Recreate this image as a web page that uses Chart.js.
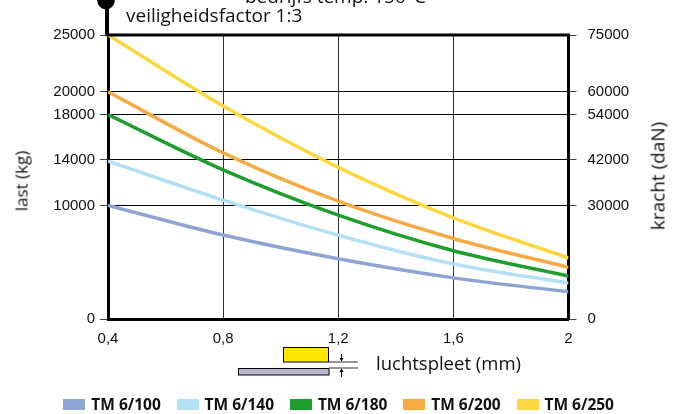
<!DOCTYPE html>
<html><head><meta charset="utf-8">
<script src="https://cdn.jsdelivr.net/npm/chart.js@4"></script>
<style>
html,body{margin:0;padding:0;background:#fff;}
#wrap{position:relative;width:678px;height:414px;overflow:hidden;font-family:"Open Sans",sans-serif;color:#111;}
canvas{position:absolute;left:0;top:0;}
.t{position:absolute;white-space:nowrap;line-height:1;}
.rot{position:absolute;white-space:nowrap;line-height:1;transform:translate(-50%,-50%) rotate(-90deg);}
.lg{position:absolute;top:396px;height:16px;display:flex;align-items:center;white-space:nowrap;font-weight:700;font-size:15.5px;}
.lg span.b{display:inline-block;width:22px;height:11px;margin-right:6px;}
</style></head><body>
<div id="wrap">
<canvas id="c" width="678" height="414"></canvas>
<div class="t" style="left:245px;top:-13px;font-size:19px">bedrijfs temp. 150°C</div>
<div class="t" style="left:126px;top:6px;font-size:19px">veiligheidsfactor 1:3</div>
<div class="t" style="left:376px;top:353.5px;font-size:18.5px">luchtspleet (mm)</div>
<div class="rot" style="left:21px;top:181px;font-size:17px">last (kg)</div>
<div class="rot" style="left:658px;top:176px;font-size:19px">kracht (daN)</div>
<div id="legend"></div>
</div>
<script>
// ---- data ----
const gapMm    = [0.4, 0.8, 1.2, 1.6, 2.0];
const xTicks   = [0.4, 0.8, 1.2, 1.6, 2];
const yTicksKg  = [0, 10000, 14000, 18000, 20000, 25000];
const yTicksDaN = [0, 30000, 42000, 54000, 60000, 75000];
const seriesNames = ['TM 6/100', 'TM 6/140', 'TM 6/180', 'TM 6/200', 'TM 6/250'];
const tm100 = [10000, 7390, 5300, 3620, 2390];
const tm140 = [13900, 10460, 7370, 4840, 3160];
const tm180 = [18000, 13130, 9140, 6010, 3780];
const tm200 = [20000, 14630, 10370, 7090, 4540];
const tm250 = [25000, 18750, 13350, 8900, 5370];
const seriesValues = [tm100, tm140, tm180, tm200, tm250];
const seriesColors = ['#8EA4D2', '#B3E0F5', '#1F9E2D', '#F5AA44', '#FDD73E'];

// ---- legend (HTML) ----
const lg = document.getElementById('legend');
seriesNames.forEach((n, i) => {
  const d = document.createElement('div');
  d.className = 'lg';
  d.style.left = (63.3 + i * 113.3) + 'px';
  d.innerHTML = '<span class="b" style="background:' + seriesColors[i] + '"></span>' + n;
  lg.appendChild(d);
});

const tickFont = {family: '"Liberation Sans", Arial, sans-serif', size: 15};

const decor = {
  id: 'decor',
  afterDraw(chart) {
    const ctx = chart.ctx, a = chart.chartArea;
    ctx.save();
    // top frame line
    ctx.strokeStyle = '#000';
    ctx.lineWidth = 3;
    ctx.beginPath(); ctx.moveTo(a.left - 1.5, a.top); ctx.lineTo(a.right + 1.5, a.top); ctx.stroke();
    // pole with ball above left axis
    ctx.lineWidth = 4;
    ctx.beginPath(); ctx.moveTo(a.left - 1, a.top); ctx.lineTo(a.left - 1, 2); ctx.stroke();
    ctx.fillStyle = '#000';
    ctx.beginPath(); ctx.arc(a.left - 2, 0.5, 8.8, 0, Math.PI * 2); ctx.fill();
    // air-gap sketch
    ctx.lineWidth = 1;
    ctx.fillStyle = '#FFE800';
    ctx.fillRect(283, 347, 46, 15); ctx.strokeRect(283.5, 347.5, 45, 14.5);
    ctx.fillStyle = '#B5B8CE';
    ctx.fillRect(238, 368, 91, 7); ctx.strokeRect(238.5, 368.5, 90.5, 6.5);
    ctx.strokeStyle = '#777'; ctx.lineWidth = 1.5;
    ctx.beginPath(); ctx.moveTo(329, 362); ctx.lineTo(358, 362); ctx.moveTo(329, 368); ctx.lineTo(358, 368); ctx.stroke();
    ctx.strokeStyle = '#000'; ctx.fillStyle = '#000'; ctx.lineWidth = 1;
    ctx.beginPath(); ctx.moveTo(341.5, 354); ctx.lineTo(341.5, 361); ctx.moveTo(341.5, 369); ctx.lineTo(341.5, 377); ctx.stroke();
    ctx.beginPath(); ctx.moveTo(339.5, 358); ctx.lineTo(343.5, 358); ctx.lineTo(341.5, 361.5); ctx.closePath(); ctx.fill();
    ctx.beginPath(); ctx.moveTo(339.5, 372); ctx.lineTo(343.5, 372); ctx.lineTo(341.5, 368.5); ctx.closePath(); ctx.fill();
    ctx.restore();
  }
};

new Chart(document.getElementById('c'), {
  type: 'line',
  data: {
    datasets: seriesNames.map((n, i) => ({
      label: n,
      data: gapMm.map((x, j) => ({x: x, y: seriesValues[i][j]})),
      borderColor: seriesColors[i],
      backgroundColor: seriesColors[i],
      borderWidth: 3.5,
      pointRadius: 0,
      cubicInterpolationMode: 'monotone',
      yAxisID: 'y'
    }))
  },
  options: {
    responsive: false,
    animation: false,
    layout: {padding: {top: 35, left: 0, right: 0, bottom: 0}},
    plugins: {legend: {display: false}, tooltip: {enabled: false}},
    scales: {
      x: {
        type: 'linear', min: 0.4, max: 2,
        afterBuildTicks: s => { s.ticks = xTicks.map(v => ({value: v})); },
        afterFit: s => { s.height = 95; },
        ticks: {font: tickFont, color: '#111', padding: 11, maxRotation: 0, autoSkip: false,
                callback: v => String(v).replace('.', ',')},
        grid: {color: c => (c.tick && (c.tick.value === 0.4 || c.tick.value === 2)) ? 'rgba(0,0,0,0)' : '#333',
               lineWidth: 1, drawTicks: false},
        border: {display: true, width: 3, color: '#000'}
      },
      y: {
        position: 'left', min: 0, max: 25000,
        afterBuildTicks: s => { s.ticks = yTicksKg.map(v => ({value: v})); },
        afterFit: s => { s.width = 108; },
        ticks: {font: tickFont, color: '#111', padding: 5, autoSkip: false, callback: v => String(v)},
        grid: {color: '#000', lineWidth: 1, drawTicks: true, tickLength: 8, tickColor: '#444'},
        border: {display: true, width: 3, color: '#000'}
      },
      y2: {
        display: true, position: 'right', min: 0, max: 75000,
        afterBuildTicks: s => { s.ticks = yTicksDaN.map(v => ({value: v})); },
        afterFit: s => { s.width = 109.5; },
        ticks: {font: tickFont, color: '#111', padding: 11, autoSkip: false, callback: v => String(v)},
        grid: {drawOnChartArea: false, drawTicks: true, tickLength: 8, tickColor: '#444'},
        border: {display: true, width: 3, color: '#000'}
      }
    }
  },
  plugins: [decor]
});
</script>
</body></html>
